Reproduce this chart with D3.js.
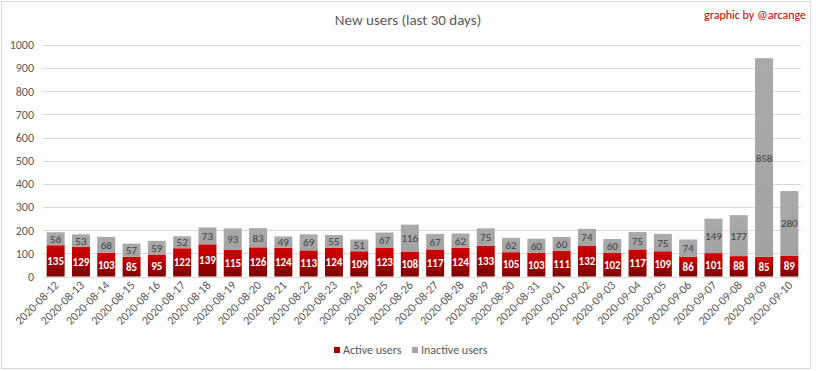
<!DOCTYPE html>
<html>
<head>
<meta charset="utf-8">
<script src="https://cdn.jsdelivr.net/npm/d3@7"></script>
<style>
  body { margin: 0; background: #fff; }
  svg text { font-family: Carlito, "Open Sans", "Noto Sans", sans-serif; }
</style>
</head>
<body>
<svg id="chart" width="816" height="371"></svg>
<script>
// data
var dates = ["2020-08-12","2020-08-13","2020-08-14","2020-08-15","2020-08-16","2020-08-17",
  "2020-08-18","2020-08-19","2020-08-20","2020-08-21","2020-08-22","2020-08-23","2020-08-24",
  "2020-08-25","2020-08-26","2020-08-27","2020-08-28","2020-08-29","2020-08-30","2020-08-31",
  "2020-09-01","2020-09-02","2020-09-03","2020-09-04","2020-09-05","2020-09-06","2020-09-07",
  "2020-09-08","2020-09-09","2020-09-10"];
var active = [135,129,103,85,95,122,139,115,126,124,113,124,109,123,108,117,124,133,105,103,
  111,132,102,117,109,86,101,88,85,89];
var inactive = [56,53,68,57,59,52,73,93,83,49,69,55,51,67,116,67,62,75,62,60,
  60,74,60,75,75,74,149,177,858,280];
var yTicks = [0,100,200,300,400,500,600,700,800,900,1000];

var svg = d3.select("#chart");

// gradients for the bars
var defs = svg.append("defs");
var gr = defs.append("linearGradient").attr("id", "gRed")
  .attr("x1", 0).attr("y1", 0).attr("x2", 0).attr("y2", 1);
gr.append("stop").attr("offset", "0%").attr("stop-color", "#d40000");
gr.append("stop").attr("offset", "100%").attr("stop-color", "#7c0000");
var gg = defs.append("linearGradient").attr("id", "gGray")
  .attr("x1", 0).attr("y1", 0).attr("x2", 0).attr("y2", 1);
gg.append("stop").attr("offset", "0%").attr("stop-color", "#aaaaaa");
gg.append("stop").attr("offset", "100%").attr("stop-color", "#a3a3a3");

// frame
svg.append("rect").attr("x", 1.5).attr("y", 1.5).attr("width", 809).attr("height", 367)
  .attr("fill", "#fff").attr("stroke", "#d9d9d9");

var x = d3.scaleBand().domain(dates).range([43, 802]).paddingInner(0.29).paddingOuter(0.145);
var y = d3.scaleLinear().domain([0, 1000]).range([276.5, 45]);

// grid
svg.append("g").selectAll("line").data(yTicks).join("line")
  .attr("x1", 43).attr("x2", 801)
  .attr("y1", d => Math.round(y(d)) + 0.5).attr("y2", d => Math.round(y(d)) + 0.5)
  .attr("stroke", "#d9d9d9");

// y axis labels
var yAxis = svg.append("g").attr("transform", "translate(34,0)")
  .call(d3.axisLeft(y).tickValues(yTicks).tickFormat(d3.format("d")).tickSize(0).tickPadding(0));
yAxis.select(".domain").remove();
yAxis.selectAll("text").attr("fill", "#595959").style("font-size", "12px")
  .style("font-family", "Carlito, 'Open Sans', sans-serif");

// bars
var rows = dates.map((d, i) => ({ date: d, a: active[i], n: inactive[i] }));

svg.append("g").selectAll("rect").data(rows).join("rect")
  .attr("x", d => x(d.date)).attr("width", x.bandwidth())
  .attr("y", d => y(d.a)).attr("height", d => y(0) - y(d.a))
  .attr("fill", "url(#gRed)");

svg.append("g").selectAll("rect").data(rows).join("rect")
  .attr("x", d => x(d.date)).attr("width", x.bandwidth())
  .attr("y", d => y(d.a + d.n)).attr("height", d => y(d.a) - y(d.a + d.n))
  .attr("fill", "url(#gGray)");

// value labels
svg.append("g").selectAll("text").data(rows).join("text")
  .attr("x", d => x(d.date) + x.bandwidth() / 2)
  .attr("y", d => (y(0) + y(d.a)) / 2 + 4)
  .attr("text-anchor", "middle").attr("fill", "#fff")
  .style("font-size", "11px").style("font-weight", "bold")
  .text(d => d.a);

svg.append("g").selectAll("text").data(rows).join("text")
  .attr("x", d => x(d.date) + x.bandwidth() / 2)
  .attr("y", d => (y(d.a) + y(d.a + d.n)) / 2 + 4)
  .attr("text-anchor", "middle").attr("fill", "#404040")
  .style("font-size", "11px")
  .text(d => d.n);

// x axis labels
svg.append("g").selectAll("text").data(dates).join("text")
  .attr("transform", d => "translate(" + (x(d) + x.bandwidth() / 2 + 4) + ",286) rotate(-45)")
  .attr("text-anchor", "end").attr("fill", "#595959")
  .style("font-size", "12px")
  .text(d => d);

// title
svg.append("text").attr("x", 408).attr("y", 25).attr("text-anchor", "middle")
  .attr("fill", "#595959").style("font-size", "15px").text("New users (last 30 days)");

svg.append("text").attr("x", 806).attr("y", 19).attr("text-anchor", "end")
  .attr("fill", "#c00000").style("font-size", "12px").text("graphic by @arcange");

// legend
var legend = [
  { name: "Active users", color: "#a00000", x: 334 },
  { name: "Inactive users", color: "#a6a6a6", x: 412 }
];
var lg = svg.append("g").selectAll("g").data(legend).join("g")
  .attr("transform", d => "translate(" + d.x + ",347)");
lg.append("rect").attr("width", 6).attr("height", 6).attr("fill", d => d.color);
lg.append("text").attr("x", 9).attr("y", 7).attr("fill", "#595959")
  .style("font-size", "12px").text(d => d.name);
</script>
</body>
</html>
